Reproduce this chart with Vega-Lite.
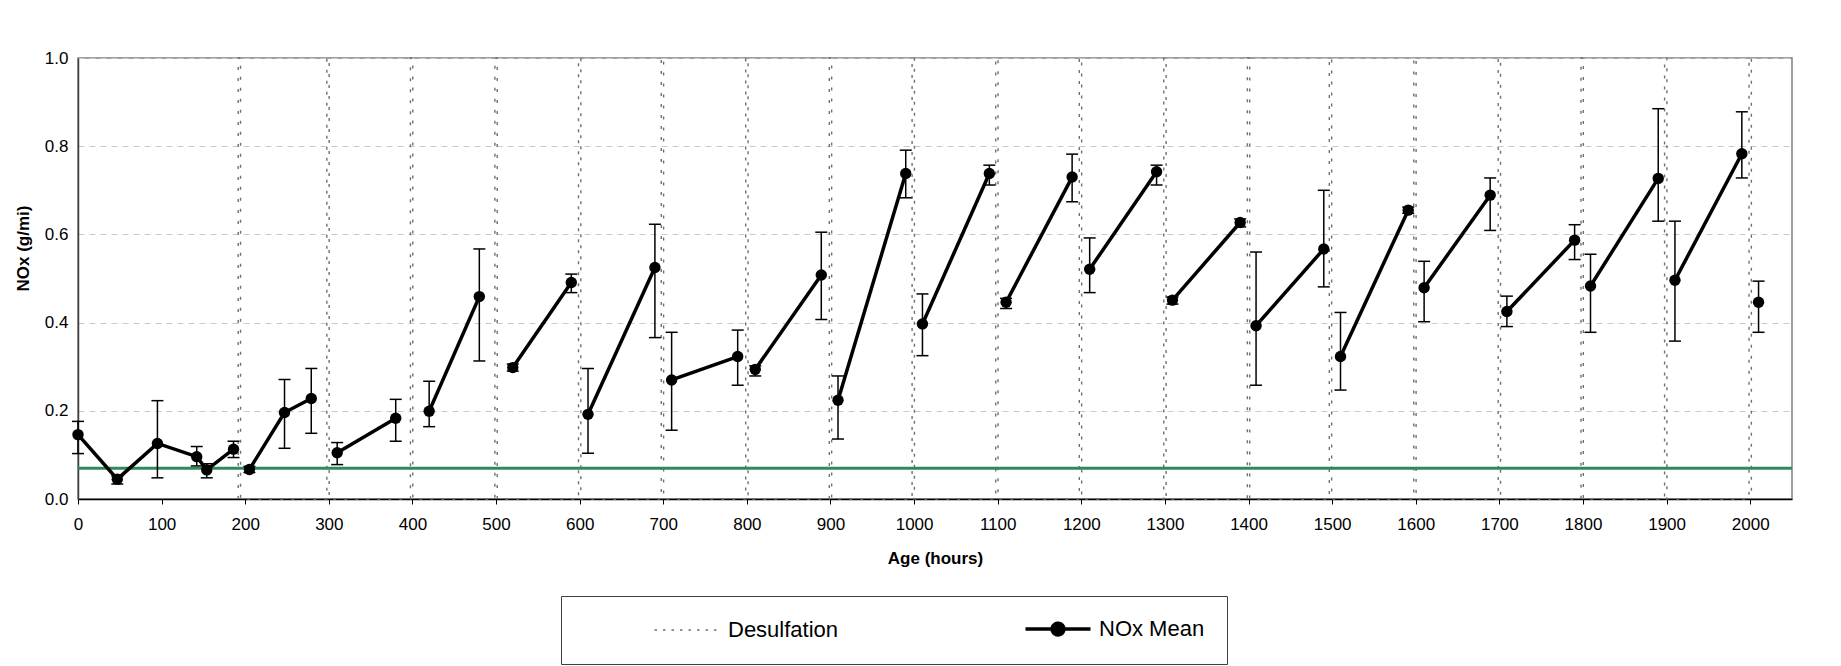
{
  "$schema": "https://vega.github.io/schema/vega-lite/v6.json",
  "autosize": "none",
  "width": 1714,
  "height": 441,
  "padding": {"left": 78, "top": 58, "right": 49, "bottom": 167},
  "background": "white",
  "config": {
    "view": {"stroke": "#808080", "strokeWidth": 1.5},
    "font": "Liberation Sans"
  },
  "datasets": {
    "nox": [
      {"x": 0, "mean": 0.146, "lo": 0.103, "hi": 0.176, "seg": "s1", "series": "NOx Mean"},
      {"x": 47, "mean": 0.045, "lo": 0.034, "hi": 0.052, "seg": "s1", "series": "NOx Mean"},
      {"x": 95, "mean": 0.126, "lo": 0.048, "hi": 0.223, "seg": "s1", "series": "NOx Mean"},
      {"x": 142, "mean": 0.096, "lo": 0.075, "hi": 0.119, "seg": "s1", "series": "NOx Mean"},
      {"x": 154, "mean": 0.066, "lo": 0.048, "hi": 0.08, "seg": "s1", "series": "NOx Mean"},
      {"x": 186, "mean": 0.113, "lo": 0.094, "hi": 0.131, "seg": "s1", "series": "NOx Mean"},
      {"x": 205, "mean": 0.067, "lo": 0.06, "hi": 0.074, "seg": "s2", "series": "NOx Mean"},
      {"x": 247, "mean": 0.196, "lo": 0.115, "hi": 0.271, "seg": "s2", "series": "NOx Mean"},
      {"x": 279, "mean": 0.228, "lo": 0.149, "hi": 0.296, "seg": "s2", "series": "NOx Mean"},
      {"x": 310, "mean": 0.105, "lo": 0.078, "hi": 0.128, "seg": "s3", "series": "NOx Mean"},
      {"x": 380, "mean": 0.183, "lo": 0.131, "hi": 0.226, "seg": "s3", "series": "NOx Mean"},
      {"x": 420, "mean": 0.199, "lo": 0.164, "hi": 0.267, "seg": "s4", "series": "NOx Mean"},
      {"x": 480, "mean": 0.459, "lo": 0.313, "hi": 0.567, "seg": "s4", "series": "NOx Mean"},
      {"x": 520, "mean": 0.298, "lo": 0.29, "hi": 0.306, "seg": "s5", "series": "NOx Mean"},
      {"x": 590, "mean": 0.491, "lo": 0.468, "hi": 0.51, "seg": "s5", "series": "NOx Mean"},
      {"x": 610, "mean": 0.192, "lo": 0.104, "hi": 0.296, "seg": "s6", "series": "NOx Mean"},
      {"x": 690, "mean": 0.525, "lo": 0.366, "hi": 0.623, "seg": "s6", "series": "NOx Mean"},
      {"x": 710, "mean": 0.27, "lo": 0.156, "hi": 0.378, "seg": "s7", "series": "NOx Mean"},
      {"x": 789, "mean": 0.323, "lo": 0.258, "hi": 0.383, "seg": "s7", "series": "NOx Mean"},
      {"x": 810, "mean": 0.294, "lo": 0.279, "hi": 0.302, "seg": "s8", "series": "NOx Mean"},
      {"x": 889, "mean": 0.508, "lo": 0.407, "hi": 0.605, "seg": "s8", "series": "NOx Mean"},
      {"x": 909, "mean": 0.224, "lo": 0.136, "hi": 0.279, "seg": "s9", "series": "NOx Mean"},
      {"x": 990, "mean": 0.738, "lo": 0.683, "hi": 0.791, "seg": "s9", "series": "NOx Mean"},
      {"x": 1010, "mean": 0.397, "lo": 0.325, "hi": 0.465, "seg": "s10", "series": "NOx Mean"},
      {"x": 1090, "mean": 0.738, "lo": 0.712, "hi": 0.757, "seg": "s10", "series": "NOx Mean"},
      {"x": 1110, "mean": 0.446, "lo": 0.432, "hi": 0.455, "seg": "s11", "series": "NOx Mean"},
      {"x": 1189, "mean": 0.73, "lo": 0.674, "hi": 0.782, "seg": "s11", "series": "NOx Mean"},
      {"x": 1210, "mean": 0.521, "lo": 0.468, "hi": 0.592, "seg": "s12", "series": "NOx Mean"},
      {"x": 1290, "mean": 0.742, "lo": 0.712, "hi": 0.757, "seg": "s12", "series": "NOx Mean"},
      {"x": 1309, "mean": 0.451, "lo": 0.442, "hi": 0.458, "seg": "s13", "series": "NOx Mean"},
      {"x": 1390, "mean": 0.627, "lo": 0.617, "hi": 0.635, "seg": "s13", "series": "NOx Mean"},
      {"x": 1409, "mean": 0.393, "lo": 0.258, "hi": 0.56, "seg": "s14", "series": "NOx Mean"},
      {"x": 1490, "mean": 0.567, "lo": 0.481, "hi": 0.7, "seg": "s14", "series": "NOx Mean"},
      {"x": 1510, "mean": 0.323, "lo": 0.247, "hi": 0.423, "seg": "s15", "series": "NOx Mean"},
      {"x": 1591, "mean": 0.655, "lo": 0.648, "hi": 0.662, "seg": "s15", "series": "NOx Mean"},
      {"x": 1610, "mean": 0.479, "lo": 0.402, "hi": 0.539, "seg": "s16", "series": "NOx Mean"},
      {"x": 1689, "mean": 0.689, "lo": 0.609, "hi": 0.728, "seg": "s16", "series": "NOx Mean"},
      {"x": 1709, "mean": 0.425, "lo": 0.391, "hi": 0.46, "seg": "s17", "series": "NOx Mean"},
      {"x": 1790, "mean": 0.587, "lo": 0.543, "hi": 0.622, "seg": "s17", "series": "NOx Mean"},
      {"x": 1809, "mean": 0.483, "lo": 0.378, "hi": 0.555, "seg": "s18", "series": "NOx Mean"},
      {"x": 1890, "mean": 0.727, "lo": 0.63, "hi": 0.885, "seg": "s18", "series": "NOx Mean"},
      {"x": 1910, "mean": 0.496, "lo": 0.358, "hi": 0.63, "seg": "s19", "series": "NOx Mean"},
      {"x": 1990, "mean": 0.783, "lo": 0.728, "hi": 0.878, "seg": "s19", "series": "NOx Mean"},
      {"x": 2010, "mean": 0.446, "lo": 0.378, "hi": 0.494, "seg": "s20", "series": "NOx Mean"}
    ],
    "desulf": [
      {"x": 191.6, "y": 0, "order": 1, "series": "Desulfation"},
      {"x": 191.6, "y": 1, "order": 2, "series": "Desulfation"},
      {"x": 194.4, "y": 1, "order": 3, "series": "Desulfation"},
      {"x": 194.4, "y": 0, "order": 4, "series": "Desulfation"},
      {"x": 297.6, "y": 0, "order": 5, "series": "Desulfation"},
      {"x": 297.6, "y": 1, "order": 6, "series": "Desulfation"},
      {"x": 300.4, "y": 1, "order": 7, "series": "Desulfation"},
      {"x": 300.4, "y": 0, "order": 8, "series": "Desulfation"},
      {"x": 397.6, "y": 0, "order": 9, "series": "Desulfation"},
      {"x": 397.6, "y": 1, "order": 10, "series": "Desulfation"},
      {"x": 400.4, "y": 1, "order": 11, "series": "Desulfation"},
      {"x": 400.4, "y": 0, "order": 12, "series": "Desulfation"},
      {"x": 498.6, "y": 0, "order": 13, "series": "Desulfation"},
      {"x": 498.6, "y": 1, "order": 14, "series": "Desulfation"},
      {"x": 501.4, "y": 1, "order": 15, "series": "Desulfation"},
      {"x": 501.4, "y": 0, "order": 16, "series": "Desulfation"},
      {"x": 598.6, "y": 0, "order": 17, "series": "Desulfation"},
      {"x": 598.6, "y": 1, "order": 18, "series": "Desulfation"},
      {"x": 601.4, "y": 1, "order": 19, "series": "Desulfation"},
      {"x": 601.4, "y": 0, "order": 20, "series": "Desulfation"},
      {"x": 697.6, "y": 0, "order": 21, "series": "Desulfation"},
      {"x": 697.6, "y": 1, "order": 22, "series": "Desulfation"},
      {"x": 700.4, "y": 1, "order": 23, "series": "Desulfation"},
      {"x": 700.4, "y": 0, "order": 24, "series": "Desulfation"},
      {"x": 798.6, "y": 0, "order": 25, "series": "Desulfation"},
      {"x": 798.6, "y": 1, "order": 26, "series": "Desulfation"},
      {"x": 801.4, "y": 1, "order": 27, "series": "Desulfation"},
      {"x": 801.4, "y": 0, "order": 28, "series": "Desulfation"},
      {"x": 898.6, "y": 0, "order": 29, "series": "Desulfation"},
      {"x": 898.6, "y": 1, "order": 30, "series": "Desulfation"},
      {"x": 901.4, "y": 1, "order": 31, "series": "Desulfation"},
      {"x": 901.4, "y": 0, "order": 32, "series": "Desulfation"},
      {"x": 997.6, "y": 0, "order": 33, "series": "Desulfation"},
      {"x": 997.6, "y": 1, "order": 34, "series": "Desulfation"},
      {"x": 1000.4, "y": 1, "order": 35, "series": "Desulfation"},
      {"x": 1000.4, "y": 0, "order": 36, "series": "Desulfation"},
      {"x": 1097.6, "y": 0, "order": 37, "series": "Desulfation"},
      {"x": 1097.6, "y": 1, "order": 38, "series": "Desulfation"},
      {"x": 1100.4, "y": 1, "order": 39, "series": "Desulfation"},
      {"x": 1100.4, "y": 0, "order": 40, "series": "Desulfation"},
      {"x": 1197.6, "y": 0, "order": 41, "series": "Desulfation"},
      {"x": 1197.6, "y": 1, "order": 42, "series": "Desulfation"},
      {"x": 1200.4, "y": 1, "order": 43, "series": "Desulfation"},
      {"x": 1200.4, "y": 0, "order": 44, "series": "Desulfation"},
      {"x": 1298.6, "y": 0, "order": 45, "series": "Desulfation"},
      {"x": 1298.6, "y": 1, "order": 46, "series": "Desulfation"},
      {"x": 1301.4, "y": 1, "order": 47, "series": "Desulfation"},
      {"x": 1301.4, "y": 0, "order": 48, "series": "Desulfation"},
      {"x": 1398.6, "y": 0, "order": 49, "series": "Desulfation"},
      {"x": 1398.6, "y": 1, "order": 50, "series": "Desulfation"},
      {"x": 1401.4, "y": 1, "order": 51, "series": "Desulfation"},
      {"x": 1401.4, "y": 0, "order": 52, "series": "Desulfation"},
      {"x": 1496.6, "y": 0, "order": 53, "series": "Desulfation"},
      {"x": 1496.6, "y": 1, "order": 54, "series": "Desulfation"},
      {"x": 1499.4, "y": 1, "order": 55, "series": "Desulfation"},
      {"x": 1499.4, "y": 0, "order": 56, "series": "Desulfation"},
      {"x": 1597.6, "y": 0, "order": 57, "series": "Desulfation"},
      {"x": 1597.6, "y": 1, "order": 58, "series": "Desulfation"},
      {"x": 1600.4, "y": 1, "order": 59, "series": "Desulfation"},
      {"x": 1600.4, "y": 0, "order": 60, "series": "Desulfation"},
      {"x": 1698.6, "y": 0, "order": 61, "series": "Desulfation"},
      {"x": 1698.6, "y": 1, "order": 62, "series": "Desulfation"},
      {"x": 1701.4, "y": 1, "order": 63, "series": "Desulfation"},
      {"x": 1701.4, "y": 0, "order": 64, "series": "Desulfation"},
      {"x": 1797.6, "y": 0, "order": 65, "series": "Desulfation"},
      {"x": 1797.6, "y": 1, "order": 66, "series": "Desulfation"},
      {"x": 1800.4, "y": 1, "order": 67, "series": "Desulfation"},
      {"x": 1800.4, "y": 0, "order": 68, "series": "Desulfation"},
      {"x": 1897.6, "y": 0, "order": 69, "series": "Desulfation"},
      {"x": 1897.6, "y": 1, "order": 70, "series": "Desulfation"},
      {"x": 1900.4, "y": 1, "order": 71, "series": "Desulfation"},
      {"x": 1900.4, "y": 0, "order": 72, "series": "Desulfation"},
      {"x": 1998.6, "y": 0, "order": 73, "series": "Desulfation"},
      {"x": 1998.6, "y": 1, "order": 74, "series": "Desulfation"},
      {"x": 2001.4, "y": 1, "order": 75, "series": "Desulfation"},
      {"x": 2001.4, "y": 0, "order": 76, "series": "Desulfation"}
    ],
    "limit": [{"y": 0.07}]
  },
  "layer": [
    {
      "data": {"name": "desulf"},
      "mark": {"type": "line", "strokeDash": [3, 8], "strokeWidth": 1.4},
      "encoding": {
        "x": {
          "field": "x", "type": "quantitative",
          "scale": {"domain": [0, 2050], "nice": false, "zero": false},
          "axis": {
            "title": "Age (hours)",
            "values": [0, 100, 200, 300, 400, 500, 600, 700, 800, 900, 1000, 1100, 1200, 1300, 1400, 1500, 1600, 1700, 1800, 1900, 2000],
            "format": "d",
            "grid": false,
            "domainColor": "#000000", "domainWidth": 1.5,
            "tickColor": "#000000", "tickSize": 5, "tickWidth": 1,
            "labelFont": "Liberation Sans", "labelFontSize": 17, "labelColor": "#000000",
            "labelPadding": 12, "labelFlush": false,
            "titleFont": "Liberation Sans", "titleFontSize": 17, "titleFontWeight": "bold", "titleColor": "#000000",
            "titlePadding": 18
          }
        },
        "y": {
          "field": "y", "type": "quantitative",
          "scale": {"domain": [0, 1], "nice": false},
          "axis": {
            "title": "NOx (g/mi)",
            "values": [0, 0.2, 0.4, 0.6, 0.8, 1.0],
            "format": ".1f",
            "grid": true, "gridColor": "#c8c8c8", "gridDash": [6, 5], "gridWidth": 1,
            "domainColor": "#404040", "domainWidth": 1.5,
            "ticks": false,
            "labelFont": "Liberation Sans", "labelFontSize": 17, "labelColor": "#000000",
            "labelPadding": 10,
            "titleFont": "Liberation Sans", "titleFontSize": 17, "titleFontWeight": "bold", "titleColor": "#000000",
            "titlePadding": 12, "titleY": 190
          }
        },
        "order": {"field": "order", "type": "quantitative"},
        "color": {
          "field": "series", "type": "nominal",
          "scale": {"domain": ["Desulfation", "NOx Mean"], "range": ["#707070", "#000000"]},
          "legend": {
            "orient": "none", "legendX": 483, "legendY": 538,
            "direction": "horizontal", "columns": 2,
            "title": null,
            "padding": 22, "symbolOffset": 93, "columnPadding": 115,
            "strokeColor": "#404040", "fillColor": "#ffffff",
            "labelFont": "Liberation Sans", "labelFontSize": 22, "labelColor": "#000000",
            "labelOffset": 30, "labelLimit": 300,
            "symbolType": "M-1,0H1", "symbolSize": 4225, "symbolStrokeWidth": 1.5,
            "encoding": {
              "symbols": {
                "shape": {"value": {"expr": "datum.value === 'NOx Mean' ? 'M-1,0H1M-0.18,0A0.18,0.18,0,1,0,0.18,0A0.18,0.18,0,1,0,-0.18,0Z' : 'M-1,0H1'"}},
                "fill": {"value": {"expr": "datum.value === 'NOx Mean' ? '#000000' : 'transparent'"}},
                "strokeWidth": {"value": {"expr": "datum.value === 'NOx Mean' ? 3.5 : 1.3"}},
                "strokeDash": {"value": {"expr": "datum.value === 'NOx Mean' ? [1, 0] : [2.5, 6]"}}
              }
            }
          }
        }
      }
    },
    {
      "data": {"name": "limit"},
      "mark": {"type": "rule", "color": "#2e8b57", "strokeWidth": 3},
      "encoding": {
        "y": {"field": "y", "type": "quantitative", "scale": {"domain": [0, 1], "nice": false}}
      }
    },
    {
      "data": {"name": "nox"},
      "mark": {"type": "line", "strokeWidth": 3.5},
      "encoding": {
        "x": {"field": "x", "type": "quantitative", "scale": {"domain": [0, 2050], "nice": false, "zero": false}},
        "y": {"field": "mean", "type": "quantitative", "scale": {"domain": [0, 1], "nice": false}},
        "detail": {"field": "seg", "type": "nominal"},
        "color": {"field": "series", "type": "nominal"}
      }
    },
    {
      "data": {"name": "nox"},
      "mark": {"type": "rule", "color": "#000000", "strokeWidth": 1.5},
      "encoding": {
        "x": {"field": "x", "type": "quantitative", "scale": {"domain": [0, 2050], "nice": false, "zero": false}},
        "y": {"field": "lo", "type": "quantitative", "scale": {"domain": [0, 1], "nice": false}},
        "y2": {"field": "hi"}
      }
    },
    {
      "data": {"name": "nox"},
      "mark": {"type": "tick", "orient": "horizontal", "size": 12, "thickness": 1.5, "color": "#000000", "opacity": 1},
      "encoding": {
        "x": {"field": "x", "type": "quantitative", "scale": {"domain": [0, 2050], "nice": false, "zero": false}},
        "y": {"field": "lo", "type": "quantitative", "scale": {"domain": [0, 1], "nice": false}}
      }
    },
    {
      "data": {"name": "nox"},
      "mark": {"type": "tick", "orient": "horizontal", "size": 12, "thickness": 1.5, "color": "#000000", "opacity": 1},
      "encoding": {
        "x": {"field": "x", "type": "quantitative", "scale": {"domain": [0, 2050], "nice": false, "zero": false}},
        "y": {"field": "hi", "type": "quantitative", "scale": {"domain": [0, 1], "nice": false}}
      }
    },
    {
      "data": {"name": "nox"},
      "mark": {"type": "circle", "size": 130, "color": "#000000", "opacity": 1},
      "encoding": {
        "x": {"field": "x", "type": "quantitative", "scale": {"domain": [0, 2050], "nice": false, "zero": false}},
        "y": {"field": "mean", "type": "quantitative", "scale": {"domain": [0, 1], "nice": false}}
      }
    }
  ]
}
